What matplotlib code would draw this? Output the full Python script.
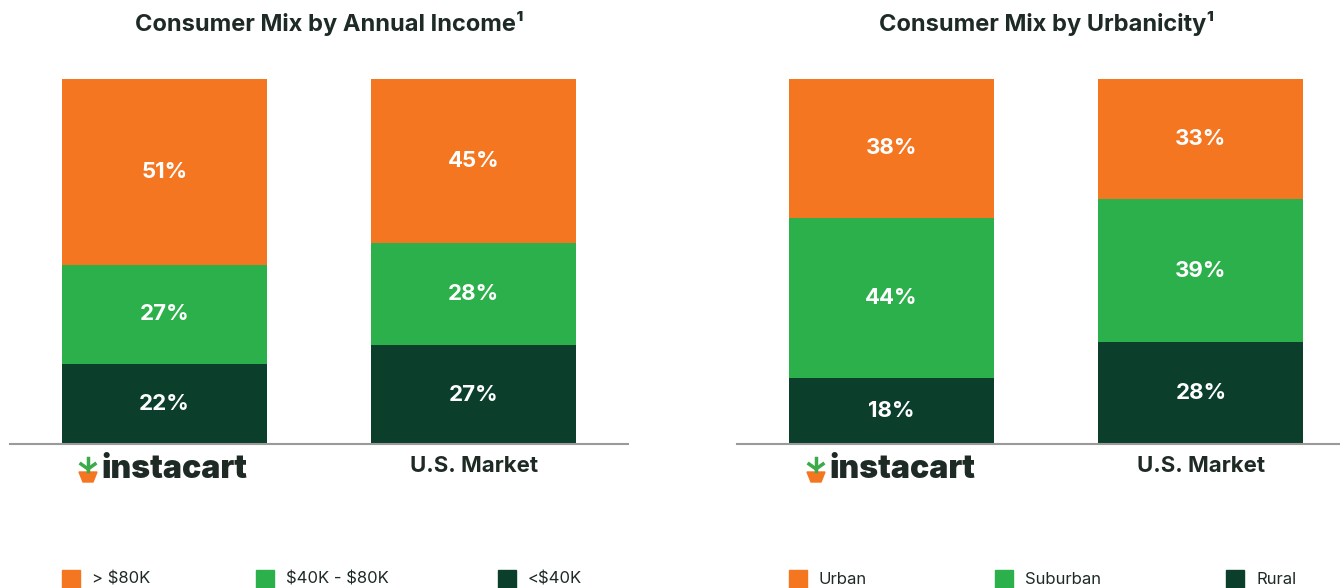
import matplotlib.pyplot as plt
from matplotlib.patches import Rectangle, Polygon

plt.rcParams['font.family'] = ['Inter', 'DejaVu Sans']
plt.rcParams['text.parse_math'] = False

# data
groups = ['instacart', 'U.S. Market']
income_labels = ['> $80K', '$40K - $80K', '<$40K']
income_low = [22, 27]
income_mid = [27, 28]
income_high = [51, 45]
urban_labels = ['Urban', 'Suburban', 'Rural']
rural = [18, 28]
suburban = [44, 39]
urban = [38, 33]

orange = '#F47621'
green = '#2BB04B'
dark = '#0B3F2C'
text_dark = '#1E2A24'

fig = plt.figure(figsize=(13.4, 5.88), dpi=100)
W, H = 1340, 588


def px(x0, y0, x1, y1):
    # pixel box (top-left origin) -> figure fraction rect
    return [x0 / W, 1 - y1 / H, (x1 - x0) / W, (y1 - y0) / H]


def stacked(ax, bottom, mid, top, xmax):
    x = range(len(groups))
    ax.bar(x, bottom, width=0.663, color=dark)
    ax.bar(x, mid, width=0.663, bottom=bottom, color=green)
    b2 = [a + b for a, b in zip(bottom, mid)]
    ax.bar(x, top, width=0.663, bottom=b2, color=orange)
    for i in x:
        for base, v in [(0, bottom[i]), (bottom[i], mid[i]), (b2[i], top[i])]:
            ax.text(i, base + v / 2, f'{v}%', ha='center', va='center',
                    color='white', fontsize=16, fontweight='bold')
    ax.set_xlim(-0.5, xmax)
    ax.set_ylim(0, 100)
    ax.set_xticks([])
    ax.set_yticks([])
    for s in ['top', 'left', 'right']:
        ax.spines[s].set_visible(False)
    ax.spines['bottom'].set_color('#9a9a9a')
    ax.spines['bottom'].set_linewidth(1.5)
    ax.set_facecolor('none')


ax1 = fig.add_axes(px(10, 79, 628, 444))
stacked(ax1, income_low, income_mid, income_high, 1.5)
ax2 = fig.add_axes(px(737, 79, 1340, 444))
stacked(ax2, rural, suburban, urban, 1.45)

# titles
fig.text(329 / W, 1 - 24 / H, 'Consumer Mix by Annual Income¹', ha='center', va='center',
         fontsize=17, fontweight='bold', color=text_dark)
fig.text(1047 / W, 1 - 24 / H, 'Consumer Mix by Urbanicity¹', ha='center', va='center',
         fontsize=17, fontweight='bold', color=text_dark)


def logo(cx, cy):
    # little carrot + wordmark
    fig.text((cx + 10) / W, 1 - cy / H, groups[0], ha='center', va='center',
             fontsize=23, fontweight='black', color=text_dark)
    ox = cx - 76
    carrot = Polygon([[(ox - 9) / W, 1 - (cy + 2) / H], [(ox + 9) / W, 1 - (cy + 2) / H],
                      [(ox + 5) / W, 1 - (cy + 12) / H], [(ox - 5) / W, 1 - (cy + 12) / H]],
                     closed=True, transform=fig.transFigure, color=orange)
    fig.patches.append(carrot)
    fig.add_artist(plt.Line2D([ox / W, ox / W], [1 - (cy - 12) / H, 1 - (cy + 1) / H],
                              color='#3BAA4A', lw=2.5))
    fig.add_artist(plt.Line2D([(ox - 7) / W, ox / W], [1 - (cy - 6) / H, 1 - (cy - 1) / H],
                              color='#3BAA4A', lw=2.5))
    fig.add_artist(plt.Line2D([(ox + 7) / W, ox / W], [1 - (cy - 6) / H, 1 - (cy - 1) / H],
                              color='#3BAA4A', lw=2.5))


logo(164, 470)
logo(892, 470)
fig.text(474 / W, 1 - 466 / H, groups[1], ha='center', va='center',
         fontsize=16, fontweight='bold', color=text_dark)
fig.text(1201 / W, 1 - 466 / H, groups[1], ha='center', va='center',
         fontsize=16, fontweight='bold', color=text_dark)


def legend(xs, labels):
    for x, lab, c in zip(xs, labels, [orange, green, dark]):
        fig.patches.append(Rectangle((x / W, 1 - 590 / H), 18 / W, 20 / H,
                                     transform=fig.transFigure, color=c))
        fig.text((x + 30) / W, 1 - 579 / H, lab, ha='left', va='center',
                 fontsize=12, color=text_dark)


legend([62, 256, 498], income_labels)
legend([789, 995, 1226], urban_labels)

fig.savefig('out.png', dpi=100, facecolor='white')
